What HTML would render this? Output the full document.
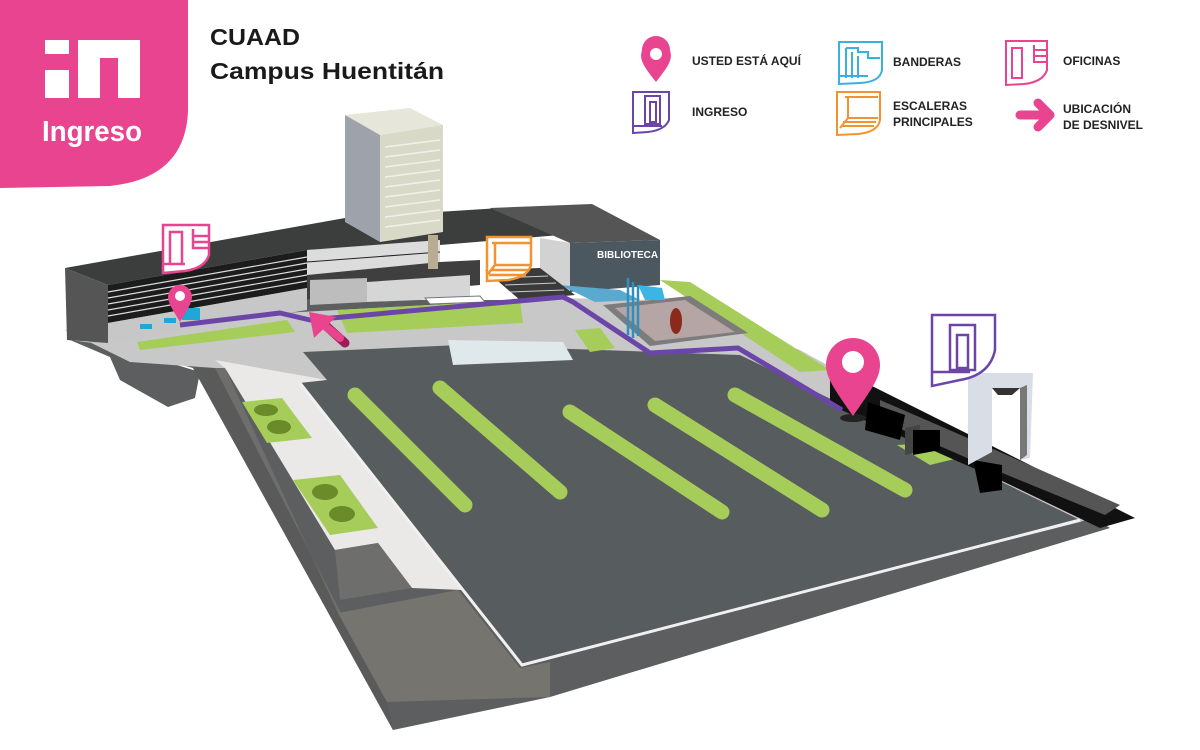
<!DOCTYPE html>
<html><head><meta charset="utf-8"><style>
html,body{margin:0;padding:0;background:#fff;}
svg{display:block}
text{font-family:"Liberation Sans",sans-serif}
</style></head><body>
<svg width="1200" height="750" viewBox="0 0 1200 750" xmlns="http://www.w3.org/2000/svg">
<!-- Badge -->
<path d="M0,0 H188 V110 Q186,178 110,186 L0,188 Z" fill="#e8448f"/>
<g fill="#fff">
<rect x="45" y="40" width="24" height="14"/>
<rect x="45" y="70" width="24" height="28"/>
<path d="M78,40 H140 V98 H118 V58 H100 V98 H78 Z"/>
</g>
<text x="42" y="141" fill="#fff" font-size="29" font-weight="bold" textLength="100" lengthAdjust="spacingAndGlyphs">Ingreso</text>
<!-- Title -->
<text x="210" y="45" fill="#1a1a1a" font-size="23" font-weight="bold" textLength="90" lengthAdjust="spacingAndGlyphs">CUAAD</text>
<text x="210" y="79" fill="#1a1a1a" font-size="23" font-weight="bold" textLength="234" lengthAdjust="spacingAndGlyphs">Campus Huentitán</text>
<!-- Legend -->
<g font-size="12" font-weight="bold" fill="#222">
<path d="M656,82 C640,62 640,58 642,50 A14,14 0 1 1 670,50 C672,58 672,62 656,82 Z" fill="#e8448f"/>
<circle cx="656" cy="54" r="6" fill="#fff"/>
<text x="692" y="65">USTED ESTÁ AQUÍ</text>
<g fill="none" stroke="#3ab0e0" stroke-width="2"><path d="M839,42 H882 V70 Q880,82 860,83 L839,84 Z"/><path d="M846,48 V78 M852,52 V78 M858,56 V78 M846,48 H858 V52 H868 V58 H880 M839,76 H868"/></g>
<text x="893" y="66">BANDERAS</text>
<g fill="none" stroke="#e8448f" stroke-width="2"><path d="M1006,41 H1047 V70 Q1043,82 1024,84 L1006,85 Z"/><path d="M1012,48 V78 H1022 V48 Z M1034,45 V62 H1046 M1034,50 H1046 M1034,56 H1046"/></g>
<text x="1063" y="65">OFICINAS</text>
<g fill="none" stroke="#6b46a8" stroke-width="2"><path d="M633,92 H669 V120 Q665,130 648,132 L633,133 Z"/><path d="M645,96 H660 V124 H645 Z M650,102 H656 V122 H650 Z M633,126 H662"/></g>
<text x="692" y="116">INGRESO</text>
<g fill="none" stroke="#f29330" stroke-width="2"><path d="M837,92 H880 V120 Q878,132 858,134 L837,135 Z"/><path d="M845,97 H878 M848,97 V118 L840,128 M848,118 H878 M843,122 H876 M841,126 H874"/></g>
<text x="893" y="110">ESCALERAS</text>
<text x="893" y="126">PRINCIPALES</text>
<g fill="none" stroke="#e8448f" stroke-width="9" stroke-linecap="round" stroke-linejoin="round"><line x1="1020" y1="115" x2="1048" y2="115"/><polyline points="1038,103 1050,115 1038,127"/></g>
<text x="1063" y="113">UBICACIÓN</text>
<text x="1063" y="129">DE DESNIVEL</text>
</g>

<!-- Base / ground -->
<polygon points="110,345 193,368 393,730 550,697 1110,528 1085,512 560,300 300,300 65,330" fill="#5d5e5f"/>
<polygon points="70,340 110,357 120,380 168,407 195,398 200,372 110,345" fill="#5d5e5f"/>
<polygon points="65,330 300,312 560,298 650,300 800,350 1100,515 1080,522 525,662 300,383 215,368 130,362" fill="#c8c8c8"/>
<!-- left strip -->
<polygon points="193,368 215,368 387,702 393,730" fill="#5a5a5a"/>
<polygon points="215,368 225,368 338,613 387,702" fill="#6e6e6c"/>
<polygon points="215,360 327,380 300,383 462,590 412,588 378,543 335,550 225,368" fill="#ebe9e8"/>
<polygon points="335,550 378,543 412,588 340,600" fill="#6e6e6c"/>
<polygon points="338,613 458,590 520,668 550,662 550,697 387,702" fill="#75746f"/>
<!-- green planters -->
<polygon points="242,402 282,398 312,438 267,443" fill="#a6cd5a"/>
<ellipse cx="266" cy="410" rx="12" ry="6" fill="#6b8a2a"/><ellipse cx="279" cy="427" rx="12" ry="7" fill="#6b8a2a"/>
<polygon points="293,480 340,475 378,528 330,535" fill="#a6cd5a"/>
<ellipse cx="325" cy="492" rx="13" ry="8" fill="#6b8a2a"/><ellipse cx="342" cy="514" rx="13" ry="8" fill="#6b8a2a"/>
<!-- parking -->
<polygon points="303,352 460,345 740,355 1080,520 522,665 300,383 327,380" fill="#575c5e"/>
<polyline points="300,383 522,665 1080,520" fill="none" stroke="#f0f0f0" stroke-width="3"/>
<polygon points="448,340 563,342 573,360 453,365" fill="#dfe8ea"/>
<g stroke="#a6cd5a" stroke-width="15" stroke-linecap="round">
<line x1="355" y1="395" x2="465" y2="505"/>
<line x1="440" y1="388" x2="560" y2="492"/>
<line x1="570" y1="412" x2="722" y2="512"/>
<line x1="655" y1="405" x2="822" y2="510"/>
<line x1="735" y1="395" x2="905" y2="490"/>
</g>
<!-- green lawns top -->
<polygon points="337,310 520,300 523,323 347,333" fill="#a6cd5a"/>
<polygon points="137,342 287,320 295,332 140,350" fill="#a6cd5a"/>
<polygon points="575,330 600,328 615,348 590,352" fill="#a6cd5a"/>
<polygon points="660,280 690,282 830,370 800,372" fill="#a6cd5a"/>
<polygon points="897,445 927,443 963,457 930,465" fill="#a6cd5a"/>
<!-- long building -->
<polygon points="65,268 345,218 500,208 560,235 440,245 307,250 108,285" fill="#3c3d3d"/>
<polygon points="65,268 108,285 108,343 67,340" fill="#555"/>
<polygon points="108,285 307,250 307,288 108,323" fill="#1c1c1c"/>
<g stroke="#ddd" stroke-width="1.2">
<line x1="108" y1="292" x2="307" y2="257"/><line x1="108" y1="298" x2="307" y2="263"/>
<line x1="108" y1="304" x2="307" y2="269"/><line x1="108" y1="310" x2="307" y2="275"/>
<line x1="108" y1="316" x2="307" y2="281"/>
</g>
<polygon points="108,323 307,288 307,310 108,343" fill="#c7c7c7"/>
<rect x="140" y="324" width="12" height="5" fill="#20a7d8"/><rect x="164" y="318" width="12" height="5" fill="#20a7d8"/><rect x="182" y="308" width="18" height="12" fill="#20a7d8"/>
<polygon points="307,250 440,240 440,262 307,275" fill="#dcdcdc"/>
<line x1="307" y1="262" x2="440" y2="252" stroke="#222" stroke-width="1"/>
<polygon points="307,275 440,262 480,260 480,285 307,300" fill="#3f3f3f"/>
<polygon points="367,282 470,275 470,298 367,302" fill="#d6d6d6"/>
<polygon points="310,280 367,278 367,302 310,305" fill="#bdbdbd"/>
<!-- tower -->
<polygon points="345,115 410,108 443,125 380,135" fill="#e6e6da"/>
<polygon points="345,115 380,135 380,242 345,222" fill="#9ea3ab"/>
<polygon points="380,135 443,125 443,232 380,242" fill="#d9d9c7"/>
<g stroke="#f0f0e8" stroke-width="1.5"><line x1="385" y1="147" x2="440" y2="140"/><line x1="385" y1="157" x2="440" y2="150"/><line x1="385" y1="167" x2="440" y2="160"/><line x1="385" y1="177" x2="440" y2="170"/><line x1="385" y1="187" x2="440" y2="180"/><line x1="385" y1="197" x2="440" y2="190"/><line x1="385" y1="207" x2="440" y2="200"/><line x1="385" y1="217" x2="440" y2="210"/><line x1="385" y1="227" x2="440" y2="220"/></g>
<rect x="428" y="235" width="10" height="34" fill="#b8ad93"/>
<!-- biblioteca -->
<polygon points="490,208 592,204 660,240 570,243" fill="#555"/>
<polygon points="540,238 570,243 570,292 540,282" fill="#d2d2d2"/>
<polygon points="570,243 660,240 660,285 570,292" fill="#4b5860"/>
<text x="597" y="258" fill="#fff" font-size="10" font-weight="bold">BIBLIOTECA</text>
<polygon points="560,285 620,290 640,300 595,302" fill="#5aa9d0"/>
<!-- stairs -->
<polygon points="485,270 540,268 575,295 520,300" fill="#3a3a3a"/>
<g stroke="#ccc" stroke-width="1"><line x1="500" y1="278" x2="548" y2="276"/><line x1="505" y1="285" x2="556" y2="283"/><line x1="510" y1="292" x2="564" y2="290"/></g>
<polygon points="425,298 480,296 485,302 430,304" fill="#fff" stroke="#777"/>
<!-- plaza with sculpture -->
<polygon points="603,305 690,296 748,333 650,346" fill="#7c7c7c"/>
<polygon points="615,308 685,300 735,332 655,341" fill="#b5a5a5"/>
<ellipse cx="676" cy="321" rx="6" ry="13" fill="#8a2a1a"/>
<g stroke="#2f8fc0" stroke-width="2.5"><line x1="628" y1="278" x2="628" y2="335"/><line x1="633" y1="282" x2="633" y2="338"/><line x1="638" y1="285" x2="638" y2="336"/></g>
<polygon points="638,285 662,288 665,300 645,300" fill="#3cb4e6"/>
<!-- right wall -->
<polygon points="830,365 1020,460 1135,518 1100,528 1000,480 830,405" fill="#111"/>
<polygon points="880,400 1000,452 1120,505 1105,515 990,468 880,420" fill="#555"/>
<polygon points="868,402 905,415 900,440 865,430" fill="#000"/>
<polygon points="905,428 920,425 920,452 905,455" fill="#444"/><polygon points="913,430 940,430 940,450 913,455" fill="#000"/>
<polygon points="973,460 1002,465 1002,490 980,493" fill="#000"/>
<!-- gate -->
<polygon points="968,373 1033,373 1030,458 1020,460 1020,388 992,388 992,452 968,465" fill="#d8dde6"/>
<polygon points="992,388 1020,388 1012,395 998,395" fill="#333"/>
<polygon points="1020,388 1027,385 1027,455 1020,460" fill="#777"/>
<!-- purple path -->
<polyline points="180,325 280,313 310,320 563,297 573,302 650,353 738,348 842,410" fill="none" stroke="#6b46a8" stroke-width="5" stroke-linejoin="round"/>
<!-- pink arrow -->
<line x1="325" y1="325" x2="345" y2="343" stroke="#9a1d55" stroke-width="9" stroke-linecap="round"/>
<line x1="320" y1="322" x2="340" y2="338" stroke="#e8448f" stroke-width="8" stroke-linecap="round"/>
<polygon points="309,312 336,317 314,338" fill="#e8448f"/>
<!-- pins -->
<path d="M180,322 C173,310 168,303 168,297 A12,12 0 1 1 192,297 C192,303 187,310 180,322 Z" fill="#e8448f"/>
<circle cx="180" cy="296" r="5" fill="#fff"/>
<ellipse cx="853" cy="418" rx="13" ry="4" fill="#222"/>
<path d="M853,416 C835,390 826,378 826,365 A27,27 0 1 1 880,365 C880,378 871,390 853,416 Z" fill="#e8448f"/>
<circle cx="853" cy="362" r="11" fill="#fff"/>
<!-- map icons -->
<g fill="none" stroke="#e8448f" stroke-width="2.5"><path d="M163,225 H209 V255 Q205,268 185,271 L163,273 Z" fill="#fff"/><path d="M170,232 V264 H182 V232 Z M193,229 V248 H208 M193,236 H208 M193,242 H208 M163,264 H185"/></g>
<g fill="none" stroke="#f29330" stroke-width="2.5"><path d="M487,237 H531 V265 Q528,277 508,280 L487,281 Z" fill="#fff"/><path d="M492,243 H530 M495,243 V265 L488,274 M495,265 H530 M491,270 H528 M489,275 H526"/></g>
<g fill="none" stroke="#6b46a8" stroke-width="2.5"><path d="M932,315 H995 V350 Q990,375 960,380 L932,386 Z" fill="#fff"/><path d="M950,325 H975 V370 H950 Z M957,335 H968 V368 H957 Z M932,372 H970"/></g>
</svg>
</body></html>
